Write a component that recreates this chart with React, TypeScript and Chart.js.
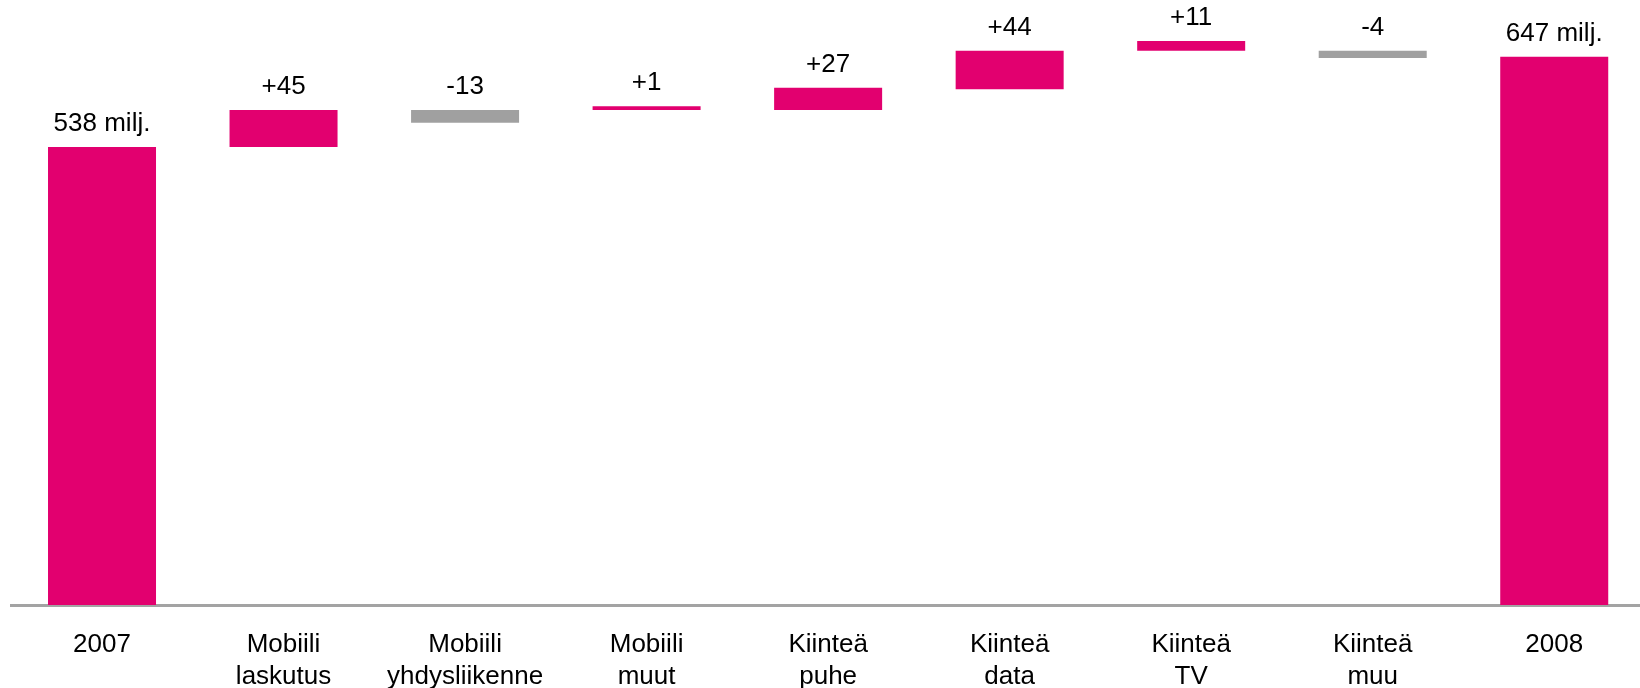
import React, { useEffect, useRef } from "react";
import { Chart, registerables } from "chart.js";

Chart.register(...registerables);

const categories: string[][] = [
  ["2007"],
  ["Mobiili", "laskutus"],
  ["Mobiili", "yhdysliikenne"],
  ["Mobiili", "muut"],
  ["Kiinteä", "puhe"],
  ["Kiinteä", "data"],
  ["Kiinteä", "TV"],
  ["Kiinteä", "muu"],
  ["2008"],
];

// floating bar bounds (milj.)
const barStart = [0, 538, 581.5, 581.5, 581.5, 606, 651, 651, 0];
const barEnd = [538, 581.5, 566.5, 586, 607.5, 651, 662.5, 642.5, 644];

const valueLabels = ["538 milj.", "+45", "-13", "+1", "+27", "+44", "+11", "-4", "647 milj."];

const MAGENTA = "#E2006F";
const GRAY = "#A0A0A0";
const FONT = "'Liberation Sans', Arial, sans-serif";

export default function App() {
  const ref = useRef<HTMLCanvasElement | null>(null);

  useEffect(() => {
    document.body.style.overflow = "hidden";
    const canvas = ref.current;
    if (!canvas) return;

    const labelPlugin = {
      id: "valueLabels",
      afterDatasetsDraw(chart: any) {
        const ctx = chart.ctx;
        const meta = chart.getDatasetMeta(0);
        const y = chart.scales.y;
        ctx.save();
        ctx.font = `26px ${FONT}`;
        ctx.fillStyle = "#000";
        ctx.textAlign = "center";
        ctx.textBaseline = "alphabetic";
        meta.data.forEach((el: any, i: number) => {
          const top = y.getPixelForValue(Math.max(barStart[i], barEnd[i]));
          ctx.fillText(valueLabels[i], el.x, top - 16);
        });
        ctx.restore();
      },
    };

    const chart = new Chart(canvas, {
      type: "bar",
      data: {
        labels: categories,
        datasets: [
          {
            data: barStart.map((s, i) => [s, barEnd[i]]),
            backgroundColor: barStart.map((s, i) =>
              i === 0 || i === barStart.length - 1 || barEnd[i] >= s ? MAGENTA : GRAY
            ),
            borderWidth: 0,
            barPercentage: 0.595,
            categoryPercentage: 1,
          },
        ],
      },
      options: {
        animation: false,
        responsive: true,
        maintainAspectRatio: false,
        layout: { padding: { left: 11.25, right: 0, top: 0, bottom: 0 } },
        plugins: {
          legend: { display: false },
          tooltip: { enabled: false },
          title: { display: false },
        },
        scales: {
          x: {
            grid: { display: false, drawTicks: false },
            border: { display: true, color: "#A3A3A3", width: 3 },
            ticks: {
              color: "#000",
              font: { family: FONT, size: 26, lineHeight: 1.25 },
              padding: 23.5,
              maxRotation: 0,
              autoSkip: false,
            },
            afterFit: (scale: any) => {
              scale.height = 83;
            },
          },
          y: {
            display: false,
            min: 0,
            max: 710.7,
          },
        },
      },
      plugins: [labelPlugin],
    });

    return () => chart.destroy();
  }, []);

  return (
    <div
      style={{
        position: "fixed",
        left: 0,
        top: 0,
        width: 1645,
        height: 688,
        background: "#fff",
      }}
    >
      <canvas ref={ref} />
    </div>
  );
}
